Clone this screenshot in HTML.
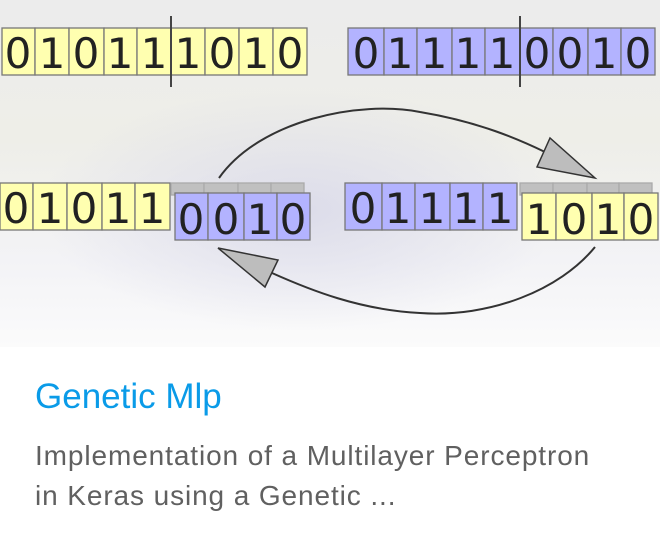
<!DOCTYPE html>
<html><head><style>
html,body{margin:0;padding:0;width:660px;height:536px;background:#fff;overflow:hidden}
.img{position:absolute;left:0;top:0;width:660px;height:347px;
background:radial-gradient(ellipse 260px 120px at 300px 210px,#dcdcea 0%,rgba(230,230,240,0) 100%),linear-gradient(#ececec 0%,#eeeee8 40%,#f3f3f6 75%,#fbfbfb 100%);}
.t{position:absolute;left:35px;top:377px;font-family:"Liberation Sans",sans-serif;font-size:35px;color:#0a9be8;white-space:nowrap}
.d{position:absolute;left:35px;top:436px;font-family:"Liberation Sans",sans-serif;font-size:28px;line-height:40px;color:#606060;white-space:nowrap;letter-spacing:0.9px}
</style></head><body>
<div class="img">
<svg width="660" height="347" xmlns="http://www.w3.org/2000/svg" font-family="DejaVu Sans, Liberation Sans, sans-serif" font-size="42" fill="#222">
<g stroke="#777" stroke-width="1.3">
<g fill="#ffffb0">
<rect x="2" y="28" width="33" height="47"/><rect x="35" y="28" width="34" height="47"/><rect x="69" y="28" width="35" height="47"/><rect x="104" y="28" width="33" height="47"/><rect x="137" y="28" width="34" height="47"/><rect x="171" y="28" width="34" height="47"/><rect x="205" y="28" width="34" height="47"/><rect x="239" y="28" width="34" height="47"/><rect x="273" y="28" width="34" height="47"/>
</g>
<g fill="#b3b3ff">
<rect x="348" y="28" width="36" height="47"/><rect x="384" y="28" width="33" height="47"/><rect x="417" y="28" width="35" height="47"/><rect x="452" y="28" width="33" height="47"/><rect x="485" y="28" width="35" height="47"/><rect x="520" y="28" width="33" height="47"/><rect x="553" y="28" width="35" height="47"/><rect x="588" y="28" width="33" height="47"/><rect x="621" y="28" width="34" height="47"/>
</g>
<g fill="#ffffb0">
<rect x="0" y="183" width="33" height="47"/><rect x="33" y="183" width="34" height="47"/><rect x="67" y="183" width="35" height="47"/><rect x="102" y="183" width="33" height="47"/><rect x="135" y="183" width="35" height="47"/>
</g>
<g fill="#c0c0c0" stroke="#aaa"><rect x="171" y="183" width="33" height="12"/><rect x="204" y="183" width="34" height="12"/><rect x="238" y="183" width="33" height="12"/><rect x="271" y="183" width="33" height="12"/></g>
<g fill="#b3b3ff">
<rect x="175" y="193" width="33" height="47"/><rect x="208" y="193" width="36" height="47"/><rect x="244" y="193" width="33" height="47"/><rect x="277" y="193" width="33" height="47"/>
</g>
<g fill="#b3b3ff">
<rect x="345" y="183" width="37" height="47"/><rect x="382" y="183" width="33" height="47"/><rect x="415" y="183" width="35" height="47"/><rect x="450" y="183" width="33" height="47"/><rect x="483" y="183" width="34" height="47"/>
</g>
<g fill="#c0c0c0" stroke="#aaa"><rect x="520" y="183" width="33" height="12"/><rect x="553" y="183" width="34" height="12"/><rect x="587" y="183" width="32" height="12"/><rect x="619" y="183" width="33" height="12"/></g>
<g fill="#ffffb0">
<rect x="522" y="193" width="34" height="47"/><rect x="556" y="193" width="36" height="47"/><rect x="592" y="193" width="32" height="47"/><rect x="624" y="193" width="34" height="47"/>
</g>
</g>
<g stroke="#444" stroke-width="2">
<line x1="171" y1="16" x2="171" y2="87"/><line x1="520" y1="16" x2="520" y2="87"/>
</g>
<g text-anchor="middle">
<text x="18" y="68">0</text><text x="52" y="68">1</text><text x="86" y="68">0</text><text x="120" y="68">1</text><text x="154" y="68">1</text><text x="188" y="68">1</text><text x="222" y="68">0</text><text x="256" y="68">1</text><text x="290" y="68">0</text>
<text x="366" y="68">0</text><text x="400" y="68">1</text><text x="434" y="68">1</text><text x="468" y="68">1</text><text x="502" y="68">1</text><text x="537" y="68">0</text><text x="570" y="68">0</text><text x="604" y="68">1</text><text x="638" y="68">0</text>
<text x="16" y="223">0</text><text x="50" y="223">1</text><text x="84" y="223">0</text><text x="118" y="223">1</text><text x="152" y="223">1</text>
<text x="191" y="234">0</text><text x="226" y="234">0</text><text x="260" y="234">1</text><text x="293" y="234">0</text>
<text x="363" y="223">0</text><text x="398" y="223">1</text><text x="432" y="223">1</text><text x="466" y="223">1</text><text x="500" y="223">1</text>
<text x="539" y="234">1</text><text x="574" y="234">0</text><text x="608" y="234">1</text><text x="641" y="234">0</text>
</g>
<g fill="none" stroke="#333" stroke-width="2">
<path d="M219,178 C260,120 360,100 420,112 C480,122 520,140 545,152"/>
<path d="M595,247 C560,290 490,318 420,313 C360,310 310,290 272,273"/>
</g>
<g fill="#bdbdbd" stroke="#333" stroke-width="1.5">
<polygon points="550,138 537,167 595,178"/>
<polygon points="218,248 278,260 265,287"/>
</g>
</svg>
</div>
<div class="t">Genetic Mlp</div>
<div class="d">Implementation of a Multilayer Perceptron<br>in Keras using a Genetic ...</div>
</body></html>
